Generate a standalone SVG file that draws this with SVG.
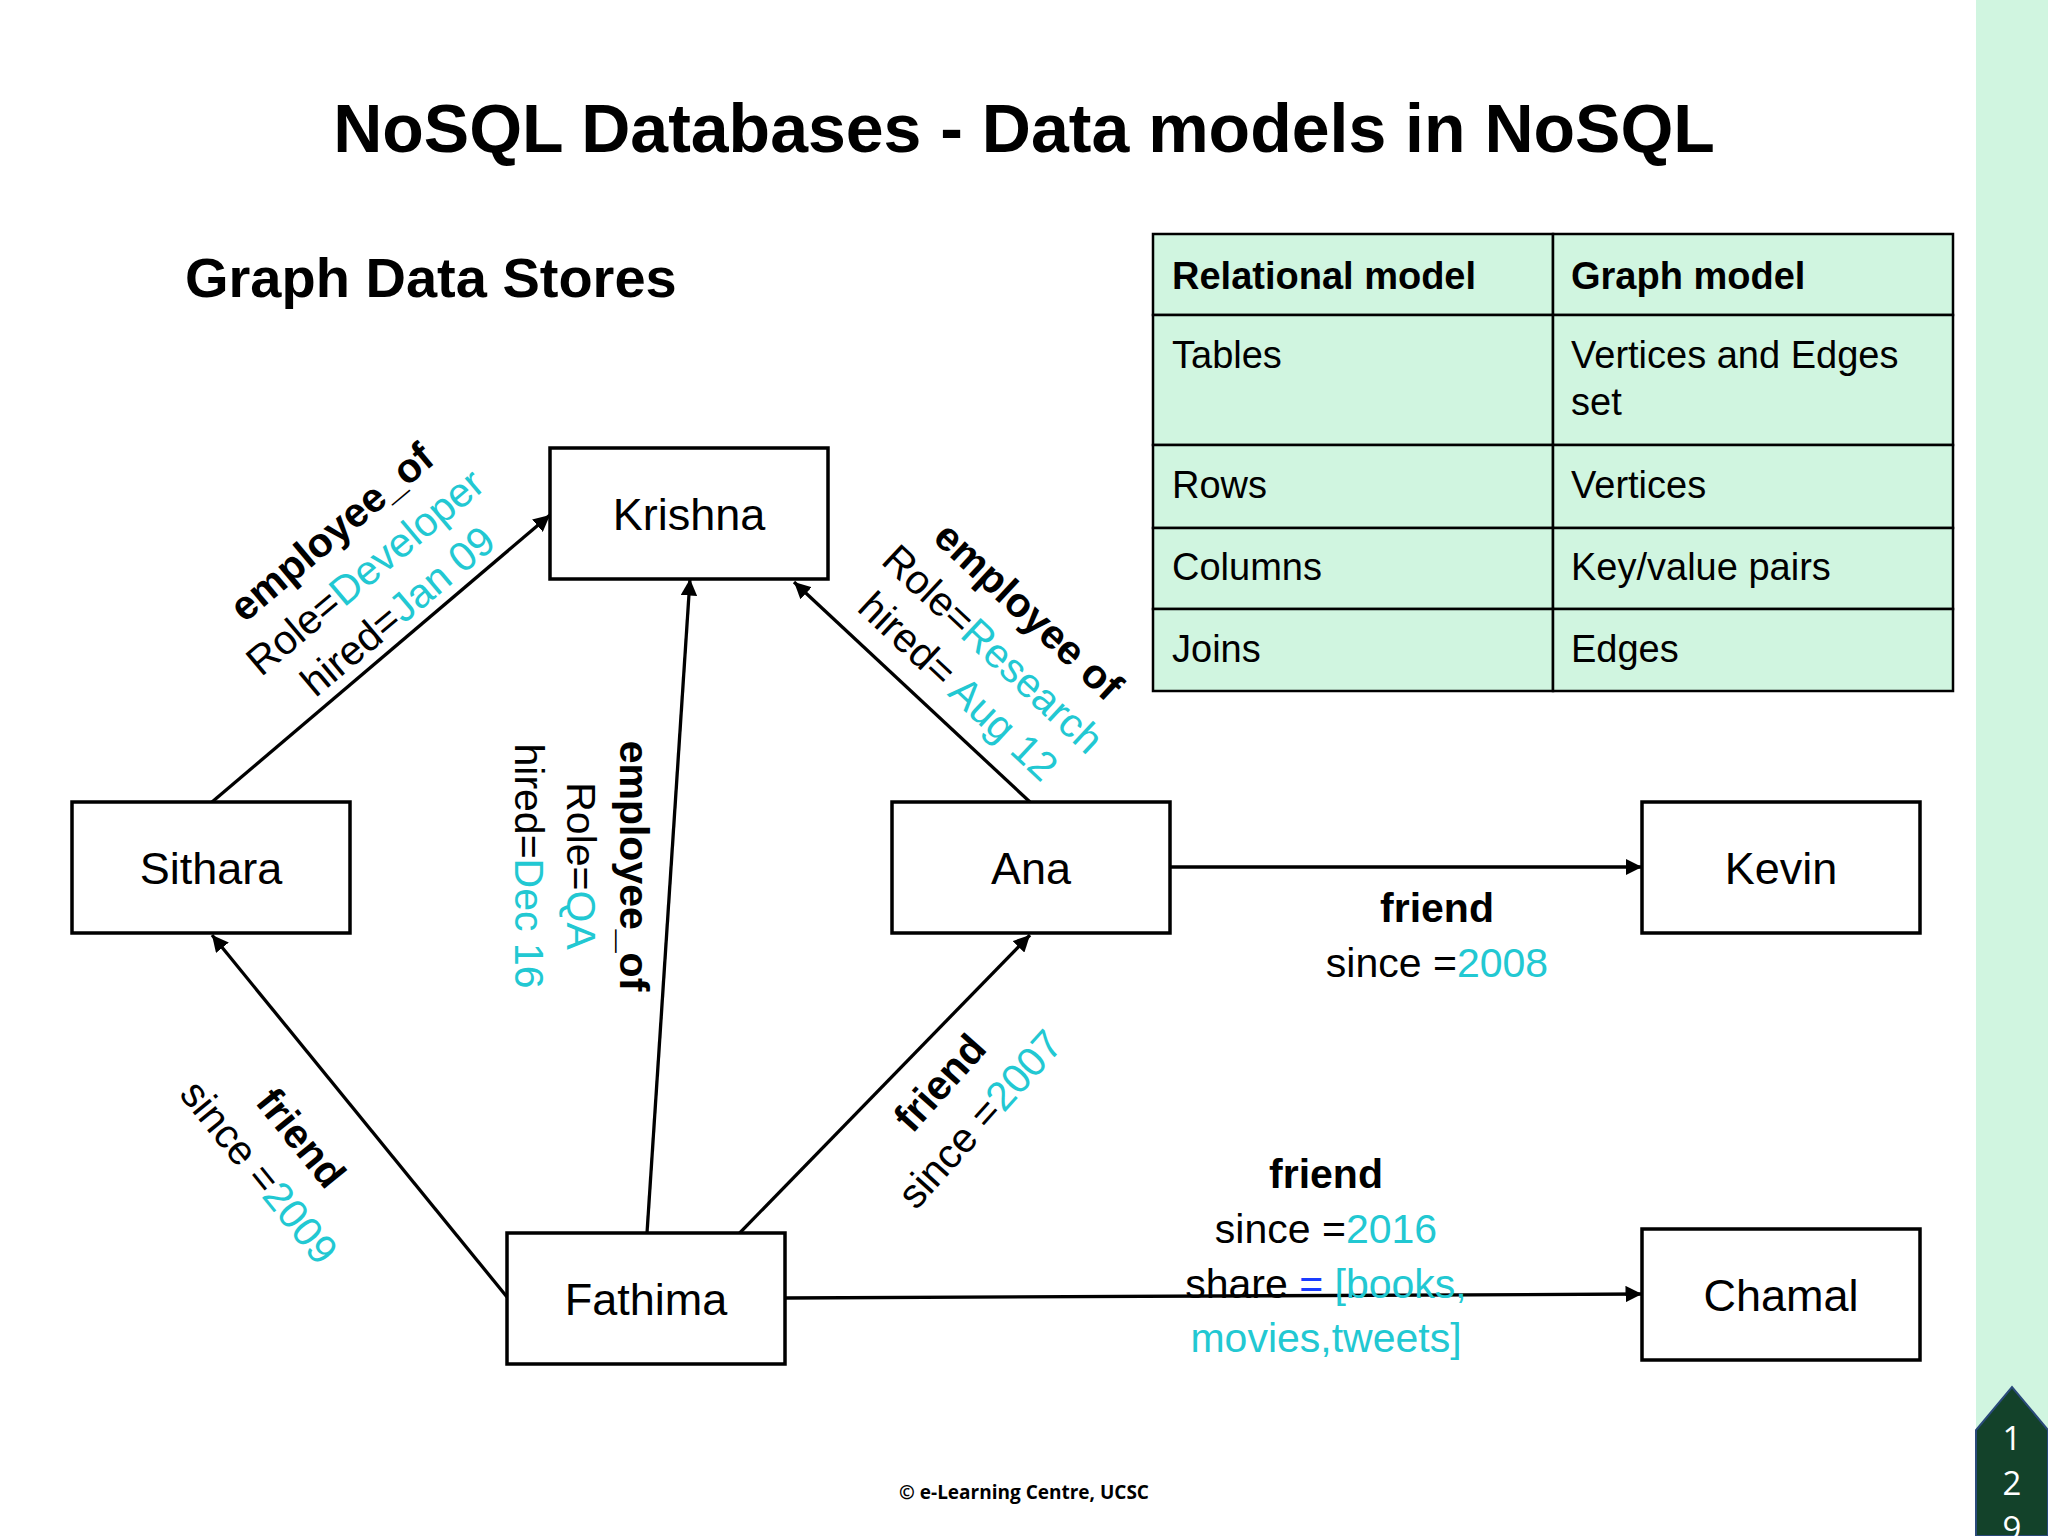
<svg xmlns="http://www.w3.org/2000/svg" width="2048" height="1536" viewBox="0 0 2048 1536">
<style>
text{font-family:"Liberation Sans",Arial,sans-serif;fill:#000}
.b{font-weight:bold}
.c{fill:#22c8d2}
.node rect{fill:#fff;stroke:#000;stroke-width:3.5}
.node text{font-size:45px;text-anchor:middle}
.lbl{font-size:41px;text-anchor:middle}
.tb{font-size:38px}
.edge{stroke:#000;stroke-width:3.3;fill:none;marker-end:url(#ah)}
.cell{fill:#d0f5e0;stroke:#000;stroke-width:2.5}
.pg{fill:#fff;font-family:"Open Sans",sans-serif;font-size:33px;text-anchor:middle}
</style>
<defs>
<marker id="ah" viewBox="0 0 10 10" refX="10" refY="5" markerWidth="5" markerHeight="5" orient="auto" markerUnits="strokeWidth">
<path d="M0,0 L10,5 L0,10 z" fill="#000"/>
</marker>
</defs>
<rect width="2048" height="1536" fill="#fff"/>
<rect x="1976" y="0" width="72" height="1536" fill="#d0f5e0"/>
<path d="M1976,1536 L1976,1430 L2012,1387 L2048,1430 L2048,1536 z" fill="#13422a" stroke="#2a4a7a" stroke-width="2"/>
<text class="pg" x="2012" y="1450">1</text>
<text class="pg" x="2012" y="1495">2</text>
<text class="pg" x="2012" y="1540">9</text>
<text x="1024" y="152" class="b" font-size="68" text-anchor="middle">NoSQL Databases - Data models in NoSQL</text>
<text x="185" y="297" class="b" font-size="56">Graph Data Stores</text>

<g id="table">
<rect class="cell" x="1153" y="234" width="400" height="81"/>
<rect class="cell" x="1553" y="234" width="400" height="81"/>
<rect class="cell" x="1153" y="315" width="400" height="130"/>
<rect class="cell" x="1553" y="315" width="400" height="130"/>
<rect class="cell" x="1153" y="445" width="400" height="83"/>
<rect class="cell" x="1553" y="445" width="400" height="83"/>
<rect class="cell" x="1153" y="528" width="400" height="81"/>
<rect class="cell" x="1553" y="528" width="400" height="81"/>
<rect class="cell" x="1153" y="609" width="400" height="82"/>
<rect class="cell" x="1553" y="609" width="400" height="82"/>
<text class="tb b" x="1172" y="289">Relational model</text>
<text class="tb b" x="1571" y="289">Graph model</text>
<text class="tb" x="1172" y="368">Tables</text>
<text class="tb" x="1571" y="368">Vertices and Edges</text>
<text class="tb" x="1571" y="415">set</text>
<text class="tb" x="1172" y="498">Rows</text>
<text class="tb" x="1571" y="498">Vertices</text>
<text class="tb" x="1172" y="580">Columns</text>
<text class="tb" x="1571" y="580">Key/value pairs</text>
<text class="tb" x="1172" y="662">Joins</text>
<text class="tb" x="1571" y="662">Edges</text>
</g>

<g id="connectors">
<line class="edge" x1="212" y1="802" x2="550" y2="515"/>
<line class="edge" x1="647" y1="1233" x2="690" y2="579"/>
<line class="edge" x1="1030" y1="802" x2="794" y2="582"/>
<line class="edge" x1="507" y1="1297" x2="212" y2="935"/>
<line class="edge" x1="726" y1="1247" x2="1030" y2="935"/>
<line class="edge" x1="1170" y1="867" x2="1642" y2="867"/>
<line class="edge" x1="785" y1="1298" x2="1642" y2="1294"/>
</g>

<g id="labels">
<g transform="translate(365,572) rotate(-40)">
<text class="lbl b" y="-38">employee_of</text>
<text class="lbl" y="14">Role=<tspan class="c">Developer</tspan></text>
<text class="lbl" y="65">hired=<tspan class="c">Jan 09</tspan></text>
</g>
<g transform="translate(993,649) rotate(43)">
<text class="lbl b" y="-38">employee of</text>
<text class="lbl" y="14">Role=<tspan class="c">Research</tspan></text>
<text class="lbl" y="65">hired= <tspan class="c">Aug 12</tspan></text>
</g>
<g transform="translate(581,866) rotate(90)">
<text class="lbl b" y="-39">employee_of</text>
<text class="lbl" y="14">Role=<tspan class="c">QA</tspan></text>
<text class="lbl" y="66">hired=<tspan class="c">Dec 16</tspan></text>
</g>
<g transform="translate(259,1172) rotate(51)">
<text class="lbl b" y="-40">friend</text>
<text class="lbl" y="14">since =<tspan class="c">2009</tspan></text>
</g>
<g transform="translate(980,1119) rotate(-48)">
<text class="lbl b" y="-40">friend</text>
<text class="lbl" y="14">since =<tspan class="c">2007</tspan></text>
</g>
<text class="lbl b" x="1437" y="922">friend</text>
<text class="lbl" x="1437" y="977">since =<tspan class="c">2008</tspan></text>
<text class="lbl b" x="1326" y="1188">friend</text>
<text class="lbl" x="1326" y="1243">since =<tspan class="c">2016</tspan></text>
<text class="lbl" x="1326" y="1298">share <tspan style="fill:#1a3cff">=</tspan> <tspan class="c">[books,</tspan></text>
<text class="lbl c" x="1326" y="1352">movies,tweets]</text>
</g>

<g id="n-krishna" class="node"><rect x="550" y="448" width="278" height="131"/><text x="689" y="530">Krishna</text></g>
<g id="n-sithara" class="node"><rect x="72" y="802" width="278" height="131"/><text x="211" y="884">Sithara</text></g>
<g id="n-ana" class="node"><rect x="892" y="802" width="278" height="131"/><text x="1031" y="884">Ana</text></g>
<g id="n-kevin" class="node"><rect x="1642" y="802" width="278" height="131"/><text x="1781" y="884">Kevin</text></g>
<g id="n-fathima" class="node"><rect x="507" y="1233" width="278" height="131"/><text x="646" y="1315">Fathima</text></g>
<g id="n-chamal" class="node"><rect x="1642" y="1229" width="278" height="131"/><text x="1781" y="1311">Chamal</text></g>

<text x="1024" y="1499" font-size="19" text-anchor="middle" style="font-family:'Open Sans',sans-serif;font-weight:bold">© e-Learning Centre, UCSC</text>
</svg>
